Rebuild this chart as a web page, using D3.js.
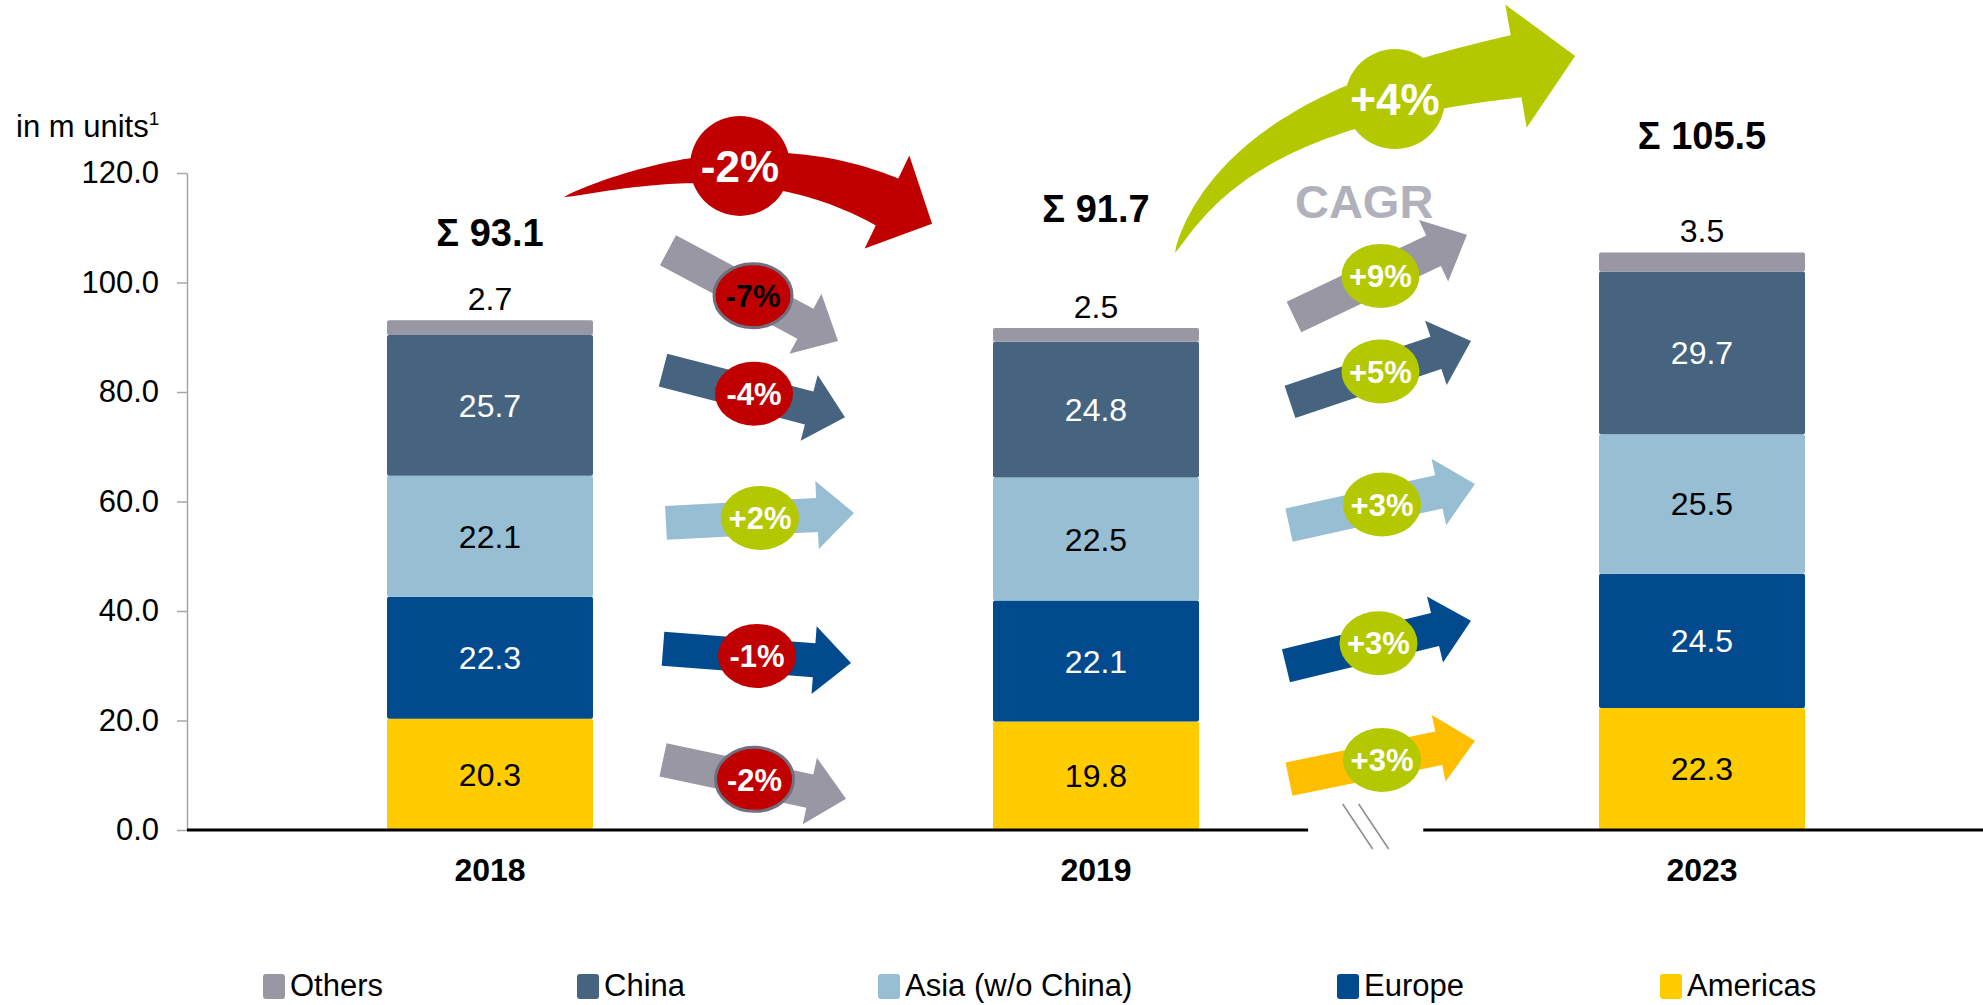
<!DOCTYPE html>
<html>
<head>
<meta charset="utf-8">
<script src="https://cdn.jsdelivr.net/npm/d3@7"></script>
<style>
    body { margin: 0; background: #fff; }
    svg { display: block; font-family: "Liberation Sans", Arial, sans-serif; }
</style>
</head>
<body>
<div id="chart"></div>
<script>
// 1: DATA
const years = ["2018", "2019", "2023"];
const regions = ["Americas", "Europe", "Asia (w/o China)", "China", "Others"]; // bottom -> top
const americas = [20.3, 19.8, 22.3];
const europe = [22.3, 22.1, 24.5];
const asia = [22.1, 22.5, 25.5];
const china = [25.7, 24.8, 29.7];
const others = [2.7, 2.5, 3.5];
const totals = [93.1, 91.7, 105.5];
const yTicks = [0, 20, 40, 60, 80, 100, 120];
const change1819 = ["-2%", "-1%", "+2%", "-4%", "-7%"];   // same order as regions
const cagr1923 = ["+3%", "+3%", "+3%", "+5%", "+9%"];
const totalChange = ["-2%", "+4%"];
const legendOrder = ["Others", "China", "Asia (w/o China)", "Europe", "Americas"];

// 2: LAYOUT / STYLE
const W = 1983, H = 1005;
const colors = {
    "Americas": "#ffcc00",
    "Europe": "#004a8d",
    "Asia (w/o China)": "#97bed3",
    "China": "#46647f",
    "Others": "#9897a3"
};
const labelColor = {
    "Americas": "#000", "Europe": "#fff", "Asia (w/o China)": "#000", "China": "#fff"
};
const red = "#c00000", green = "#b4c800";

// arrow anchors in (bar index, value) units: [tailIdx, tailVal, tipIdx, tipVal]
const arrows1 = [[0.2855, 12.8, 0.5875, 5.7], [0.2855, 33.1, 0.5957, 30.5], [0.2904, 56.1, 0.6007, 57.9],
                 [0.2855, 84.0, 0.5858, 75.4], [0.2937, 105.9, 0.5743, 89.3]];
const arrows2 = [[1.3185, 9.3, 1.6254, 16.3], [1.3135, 30.0, 1.6188, 38.2], [1.3185, 55.7, 1.6254, 63.2],
                 [1.3201, 78.2, 1.6188, 89.3], [1.3267, 93.7, 1.6122, 108.7]];
const arrowColors1 = ["#9897a3", "#004a8d", "#97bed3", "#46647f", "#9897a3"];
const arrowColors2 = ["#ffbf00", "#004a8d", "#97bed3", "#46647f", "#9897a3"];
// big curved arrows: cubic centerline [p0, c1, c2, p2] and badge, in (index, value)
const bigRed = { pts: [[0.1221, 115.6], [0.3312, 122.8], [0.5087, 122.5], [0.6551, 114.7]], badge: [0.4125, 121.3], wEnd: 52, headLen: 50, headW: 103 };
const bigGreen = { pts: [[1.1304, 105.4], [1.2211, 127.9], [1.4686, 135.2], [1.6931, 139.5]], badge: [1.4934, 133.5], wEnd: 63, headLen: 60, headW: 125 };
const sumOffset = [74, 106, 103];
const legendX = [263, 577, 878, 1337, 1660];

const svg = d3.select("#chart").append("svg")
    .attr("width", W).attr("height", H);

// 3: SCALES
const xPoint = d3.scalePoint().domain(years).range([490, 1702]);
const xIdx = d3.scaleLinear().domain([0, 2]).range([490, 1702]);
const y = d3.scaleLinear().domain([0, 120]).range([830, 173]);
const barW = 206;

// 4: Y AXIS
const yAxis = svg.append("g")
    .attr("transform", "translate(187,0)")
    .call(d3.axisLeft(y).tickValues(yTicks).tickFormat(d3.format(".1f"))
        .tickSize(10).tickSizeOuter(0).tickPadding(18));
yAxis.select(".domain").attr("stroke", "#a6a6a6").attr("stroke-width", 1.5);
yAxis.selectAll(".tick line").attr("stroke", "#a6a6a6").attr("stroke-width", 1.5);
yAxis.selectAll(".tick text").attr("font-size", 31).attr("fill", "#000")
    .attr("font-family", "Liberation Sans, Arial, sans-serif");

svg.append("text")
    .attr("x", 16).attr("y", 137)
    .attr("font-size", 31)
    .text("in m units")
    .append("tspan").attr("font-size", 19).attr("dy", -12).text("1");

// 5: STACKED BARS
const series = d3.stack().keys(regions)(years.map((yr, i) => ({
    year: yr,
    "Americas": americas[i], "Europe": europe[i], "Asia (w/o China)": asia[i],
    "China": china[i], "Others": others[i]
})));

const layer = svg.selectAll("g.layer")
    .data(series).enter().append("g")
    .attr("class", "layer")
    .attr("fill", d => colors[d.key]);

layer.selectAll("rect")
    .data(d => d)
    .enter().append("rect")
    .attr("x", d => xPoint(d.data.year) - barW / 2)
    .attr("y", d => y(d[1]))
    .attr("width", barW)
    .attr("height", d => y(d[0]) - y(d[1]))
    .attr("rx", 2);

// segment labels
series.forEach(s => {
    if (s.key === "Others") return;
    svg.selectAll(null)
        .data(s).enter().append("text")
        .attr("x", d => xPoint(d.data.year))
        .attr("y", d => y((d[0] + d[1]) / 2))
        .attr("dy", "0.36em")
        .attr("text-anchor", "middle")
        .attr("font-size", 32)
        .attr("fill", labelColor[s.key])
        .text(d => d3.format(".1f")(d[1] - d[0]));
});

// others labels above bars
svg.selectAll(".others-label")
    .data(years).enter().append("text")
    .attr("class", "others-label")
    .attr("x", d => xPoint(d))
    .attr("y", (d, i) => y(totals[i]) - 10)
    .attr("text-anchor", "middle")
    .attr("font-size", 32)
    .text((d, i) => d3.format(".1f")(others[i]));

// totals
svg.selectAll(".sum-label")
    .data(years).enter().append("text")
    .attr("class", "sum-label")
    .attr("x", d => xPoint(d))
    .attr("y", (d, i) => y(totals[i]) - sumOffset[i])
    .attr("text-anchor", "middle")
    .attr("font-size", 38)
    .attr("font-weight", "bold")
    .text((d, i) => "\u03A3 " + d3.format(".1f")(totals[i]));

// 6: BASELINE WITH BREAK
const breakL = xIdx(1.35), breakR = xIdx(1.54), breakC = xIdx(1.445);
svg.append("line").attr("x1", 187).attr("x2", breakL).attr("y1", y(0)).attr("y2", y(0))
    .attr("stroke", "#000").attr("stroke-width", 3);
svg.append("line").attr("x1", breakR).attr("x2", W).attr("y1", y(0)).attr("y2", y(0))
    .attr("stroke", "#000").attr("stroke-width", 3);
[-8, 8].forEach(o => {
    svg.append("line")
        .attr("x1", breakC + o - 15).attr("y1", y(0) - 26)
        .attr("x2", breakC + o + 15).attr("y2", y(0) + 19)
        .attr("stroke", "#8c8c8c").attr("stroke-width", 1.5);
});

// year labels
svg.selectAll(".year-label")
    .data(years).enter().append("text")
    .attr("x", d => xPoint(d))
    .attr("y", 881)
    .attr("text-anchor", "middle")
    .attr("font-size", 32)
    .attr("font-weight", "bold")
    .text(d => d);

// 7: GROWTH ARROWS
function straightArrow(t, p, w, hl, hw) {
    const dx = p[0] - t[0], dy = p[1] - t[1];
    const len = Math.hypot(dx, dy);
    const u = [dx / len, dy / len], n = [-u[1], u[0]];
    const b = [p[0] - u[0] * hl, p[1] - u[1] * hl];
    const pt = (c, s) => [c[0] + n[0] * s, c[1] + n[1] * s];
    return d3.line()([pt(t, w / 2), pt(b, w / 2), pt(b, hw / 2), p, pt(b, -hw / 2), pt(b, -w / 2), pt(t, -w / 2)]) + "Z";
}

function drawGroup(anchors, cols, labels, group) {
    anchors.forEach((a, i) => {
        const t = [xIdx(a[0]), y(a[1])], p = [xIdx(a[2]), y(a[3])];
        svg.append("path")
            .attr("d", straightArrow(t, p, 34, 37, 68))
            .attr("fill", cols[i]);
        const cx = (t[0] + p[0]) / 2, cy = (t[1] + p[1]) / 2;
        const neg = labels[i].startsWith("-");
        const bordered = neg && cols[i] === colors["Others"];
        svg.append("ellipse")
            .attr("cx", cx).attr("cy", cy).attr("rx", 39).attr("ry", 32)
            .attr("fill", neg ? red : green)
            .attr("stroke", bordered ? "#6f6f80" : "none")
            .attr("stroke-width", 3);
        svg.append("text")
            .attr("x", cx).attr("y", cy).attr("dy", "0.36em")
            .attr("text-anchor", "middle")
            .attr("font-size", 31).attr("font-weight", "bold")
            .attr("fill", (group === 1 && i === 4) ? "#000" : "#fff")
            .text(labels[i]);
    });
}
drawGroup(arrows1, arrowColors1, change1819, 1);
drawGroup(arrows2, arrowColors2, cagr1923, 2);

// big curved arrows
function curvedArrow(cfg) {
    const P = cfg.pts.map(q => [xIdx(q[0]), y(q[1])]);
    const bez = t => {
        const m = 1 - t;
        return [0, 1].map(k => m * m * m * P[0][k] + 3 * m * m * t * P[1][k] + 3 * m * t * t * P[2][k] + t * t * t * P[3][k]);
    };
    const der = t => {
        const m = 1 - t;
        return [0, 1].map(k => 3 * m * m * (P[1][k] - P[0][k]) + 6 * m * t * (P[2][k] - P[1][k]) + 3 * t * t * (P[3][k] - P[2][k]));
    };
    const up = [], lo = [];
    const N = 60;
    for (let j = 0; j <= N; j++) {
        const t = j / N, c = bez(t), d = der(t);
        const l = Math.hypot(d[0], d[1]);
        const n = [-d[1] / l, d[0] / l];
        const w = cfg.wEnd * Math.pow(t, 0.7) / 2;
        up.push([c[0] - n[0] * w, c[1] - n[1] * w]);
        lo.push([c[0] + n[0] * w, c[1] + n[1] * w]);
    }
    const e = bez(1), d = der(1), l = Math.hypot(d[0], d[1]);
    const u = [d[0] / l, d[1] / l], n = [-u[1], u[0]];
    const head = [
        [e[0] - n[0] * cfg.headW / 2, e[1] - n[1] * cfg.headW / 2],
        [e[0] + u[0] * cfg.headLen, e[1] + u[1] * cfg.headLen],
        [e[0] + n[0] * cfg.headW / 2, e[1] + n[1] * cfg.headW / 2]
    ];
    return d3.line()(up.concat(head, lo.reverse())) + "Z";
}

[[bigRed, red, totalChange[0]], [bigGreen, green, totalChange[1]]].forEach(([cfg, col, lab]) => {
    svg.append("path").attr("d", curvedArrow(cfg)).attr("fill", col);
    const bx = xIdx(cfg.badge[0]), by = y(cfg.badge[1]);
    svg.append("circle").attr("cx", bx).attr("cy", by).attr("r", 50).attr("fill", col);
    svg.append("text")
        .attr("x", bx).attr("y", by).attr("dy", "0.36em")
        .attr("text-anchor", "middle")
        .attr("font-size", 44).attr("font-weight", "bold")
        .attr("fill", "#fff")
        .text(lab);
});

svg.append("text")
    .attr("x", xIdx(1.4425)).attr("y", 218)
    .attr("text-anchor", "middle")
    .attr("font-size", 47).attr("font-weight", "bold")
    .attr("fill", "#b1b1bc")
    .text("CAGR");

// 8: LEGEND
const legend = svg.selectAll(".legend")
    .data(legendOrder).enter().append("g")
    .attr("transform", (d, i) => `translate(${legendX[i]},0)`);
legend.append("rect")
    .attr("x", 0).attr("y", 974).attr("width", 22).attr("height", 25).attr("rx", 3)
    .attr("fill", d => colors[d]);
legend.append("text")
    .attr("x", 27).attr("y", 996)
    .attr("font-size", 31)
    .text(d => d);
</script>
</body>
</html>
